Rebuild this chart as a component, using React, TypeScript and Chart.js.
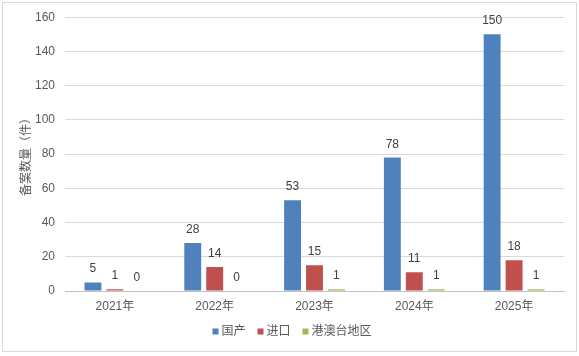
import React, { useEffect, useRef } from "react";
import { Chart, registerables } from "chart.js";

Chart.register(...registerables);

const categories = ["2021年", "2022年", "2023年", "2024年", "2025年"];
const domestic = [5, 28, 53, 78, 150];
const imported = [1, 14, 15, 11, 18];
const hkMacaoTaiwan = [0, 0, 1, 1, 1];
const seriesNames = ["国产", "进口", "港澳台地区"];
const seriesColors = ["#4F81BD", "#C0504D", "#9BBB59"];
const yTitle = "备案数量（件）";

const FONT = "'Liberation Sans', 'Noto Sans CJK SC', sans-serif";

const borderPlugin = {
  id: "outerBorder",
  beforeDraw(chart: any) {
    const ctx = chart.ctx;
    ctx.save();
    ctx.fillStyle = "#ffffff";
    ctx.fillRect(0, 0, chart.width, chart.height);
    ctx.strokeStyle = "#D9D9D9";
    ctx.lineWidth = 1;
    ctx.strokeRect(2.5, 2.5, chart.width - 5, chart.height - 7);
    ctx.restore();
  },
};

const labelPlugin = {
  id: "valueLabels",
  afterDatasetsDraw(chart: any) {
    const ctx = chart.ctx;
    ctx.save();
    ctx.font = `12px ${FONT}`;
    ctx.fillStyle = "#404040";
    ctx.textAlign = "center";
    ctx.textBaseline = "alphabetic";
    chart.data.datasets.forEach((ds: any, di: number) => {
      const meta = chart.getDatasetMeta(di);
      meta.data.forEach((el: any, i: number) => {
        ctx.fillText(String(ds.data[i]), el.x, el.y - 10);
      });
    });
    ctx.restore();
  },
};

const legendPlugin = {
  id: "customLegend",
  afterDraw(chart: any) {
    const ctx = chart.ctx;
    ctx.save();
    ctx.font = `12px ${FONT}`;
    const box = 6;
    const gap = 3;
    const itemGap = 12;
    const widths = seriesNames.map((n) => box + gap + ctx.measureText(n).width);
    const total = widths.reduce((a, b) => a + b, 0) + itemGap * (widths.length - 1);
    let x = 292 - total / 2;
    const cy = 331.5;
    ctx.textBaseline = "middle";
    ctx.textAlign = "left";
    seriesNames.forEach((n, i) => {
      ctx.fillStyle = seriesColors[i];
      ctx.fillRect(x, cy - box / 2, box, box);
      ctx.fillStyle = "#595959";
      ctx.fillText(n, x + box + gap, cy + 0.5);
      x += widths[i] + itemGap;
    });
    ctx.restore();
  },
};

export default function App() {
  const ref = useRef<HTMLCanvasElement>(null);
  useEffect(() => {
    if (!ref.current) return;
    const chart = new Chart(ref.current, {
      type: "bar",
      data: {
        labels: categories,
        datasets: [
          { label: seriesNames[0], data: domestic, backgroundColor: seriesColors[0] },
          { label: seriesNames[1], data: imported, backgroundColor: seriesColors[1] },
          { label: seriesNames[2], data: hkMacaoTaiwan, backgroundColor: seriesColors[2] },
        ],
      },
      options: {
        responsive: false,
        animation: false,
        devicePixelRatio: 1,
        layout: { padding: { top: 17, right: 15, left: 0, bottom: 45 } },
        datasets: { bar: { categoryPercentage: 0.66, barPercentage: 0.77 } },
        plugins: {
          legend: { display: false },
          tooltip: { enabled: false },
        },
        scales: {
          x: {
            grid: { display: false, drawTicks: false },
            border: { display: true, color: "#BFBFBF" },
            ticks: { color: "#595959", font: { size: 12, family: FONT }, padding: 8 },
            afterFit: (s: any) => { s.height = 20; },
          },
          y: {
            min: 0,
            max: 160,
            ticks: { stepSize: 20, color: "#595959", font: { size: 12, family: FONT }, padding: 10 },
            grid: { color: "#D9D9D9", drawTicks: false },
            border: { display: false },
            title: {
              display: true,
              text: yTitle,
              color: "#595959",
              font: { size: 12, family: FONT },
              padding: { top: 19, bottom: 0 },
            },
            afterFit: (s: any) => { s.width = 65; },
          },
        },
      },
      plugins: [borderPlugin, labelPlugin, legendPlugin],
    } as any);
    return () => chart.destroy();
  }, []);
  return (
    <div style={{ position: "absolute", left: 0, top: 0 }}>
      <canvas ref={ref} width={579} height={356} style={{ display: "block" }} />
    </div>
  );
}
